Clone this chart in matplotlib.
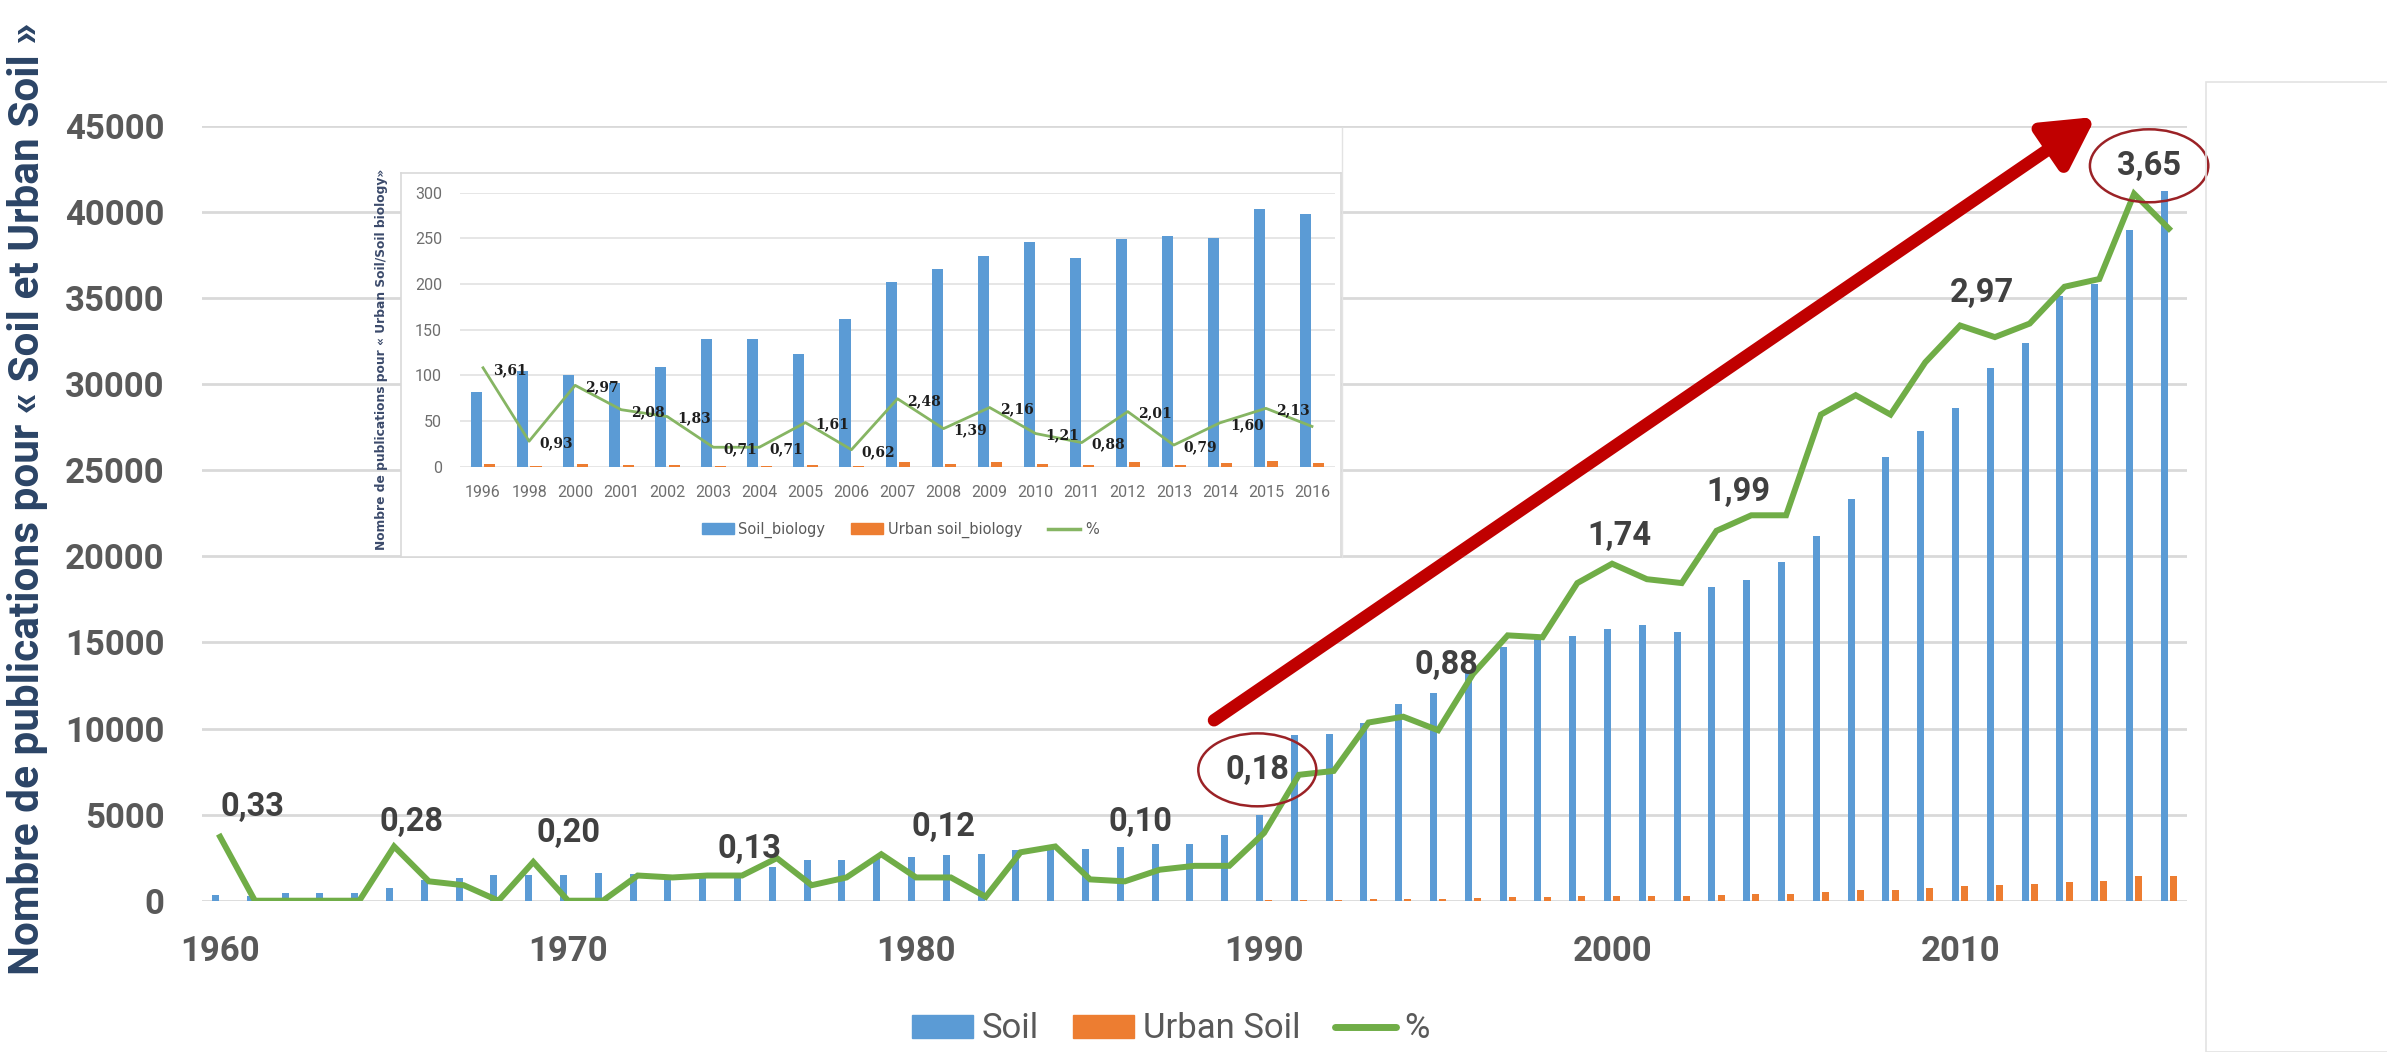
import matplotlib
matplotlib.use('Agg')
import matplotlib.pyplot as plt
import numpy as np
from matplotlib.patches import Rectangle, Patch
from matplotlib.lines import Line2D

plt.rcParams['font.family'] = ['Roboto', 'DejaVu Sans']

# Données du graphique principal (1960-2016)
annees = list(range(1960, 2017))
soil = [330, 300, 430, 430, 430, 720, 1200, 1335, 1510, 1510,
        1510, 1590, 1550, 1470, 1550, 1620, 1950, 2360, 2360, 2480,
        2550, 2630, 2710, 2940, 3000, 3020, 3100, 3290, 3290, 3810,
        4970, 9610, 9710, 10300, 11450, 12090, 13400, 14730, 15300, 15350,
        15800, 15990, 15600, 18210, 18640, 19660, 21210, 23340, 25800, 27300,
        28600, 30970, 32420, 35130, 35830, 38940, 41220]
urban_soil = [1, 0, 0, 0, 0, 2, 1, 1, 0, 3,
              0, 0, 2, 2, 2, 2, 4, 2, 3, 6,
              3, 3, 1, 7, 8, 3, 3, 5, 6, 7,
              17, 62, 65, 95, 109, 106, 157, 202, 208, 252,
              275, 265, 256, 348, 371, 391, 532, 609, 648, 759,
              849, 901, 966, 1114, 1150, 1421, 1430]
pourcent = [0.33, 0, 0, 0, 0, 0.28, 0.10, 0.08, 0, 0.20,
            0, 0, 0.13, 0.12, 0.13, 0.13, 0.22, 0.08, 0.12, 0.24,
            0.12, 0.12, 0.02, 0.25, 0.28, 0.11, 0.10, 0.16, 0.18, 0.18,
            0.35, 0.65, 0.67, 0.92, 0.95, 0.88, 1.17, 1.37, 1.36, 1.64,
            1.74, 1.66, 1.64, 1.91, 1.99, 1.99, 2.51, 2.61, 2.51, 2.78,
            2.97, 2.91, 2.98, 3.17, 3.21, 3.65, 3.47]
annees_etiquetees = [1960, 1965, 1969, 1975, 1981, 1986, 1989, 1995, 2000, 2004, 2010, 2015]
annees_entourees = [1989, 2015]

# Données de l'encart (Soil biology)
annees_bio = ['1996', '1998', '2000', '2001', '2002', '2003', '2004', '2005', '2006', '2007',
              '2008', '2009', '2010', '2011', '2012', '2013', '2014', '2015', '2016']
soil_bio = [82, 105, 100, 92, 109, 140, 140, 123, 162, 202,
            216, 231, 246, 228, 249, 253, 250, 282, 277]
urban_bio = [3, 1, 3, 2, 2, 1, 1, 2, 1, 5,
             3, 5, 3, 2, 5, 2, 4, 6, 4]
pourcent_bio = [3.61, 0.93, 2.97, 2.08, 1.83, 0.71, 0.71, 1.61, 0.62, 2.48,
                1.39, 2.16, 1.21, 0.88, 2.01, 0.79, 1.60, 2.13, 1.47]

BLEU = '#5B9BD5'
ORANGE = '#ED7D31'
VERT = '#70AD47'
GRIS = '#595959'

W, H = 2387, 1052
fig = plt.figure(figsize=(W / 100, H / 100), dpi=100)

def fx(px):
    return px / W

def fy(py):
    return 1 - py / H

# --- graphique principal ---
ax = fig.add_axes([fx(202), fy(900.7), fx(2187 - 202), (900.7 - 126) / H])
x = np.array(annees)
ax.bar(x - 0.13, soil, width=0.2, color=BLEU, zorder=2)
ax.bar(x + 0.13, urban_soil, width=0.2, color=ORANGE, zorder=2)
ax.set_xlim(1959.48, 2016.52)
ax.set_ylim(0, 45000)
ax.set_yticks(range(0, 45001, 5000))
ax.set_xticks(range(1960, 2011, 10))
ax.grid(axis='y', color='#D9D9D9', lw=2.0, zorder=0)
ax.set_axisbelow(True)
for s in ax.spines.values():
    s.set_visible(False)
ax.tick_params(length=0, labelsize=25, labelcolor=GRIS)
ax.tick_params(axis='y', pad=27)
ax.tick_params(axis='x', pad=25)
for lab in ax.get_xticklabels() + ax.get_yticklabels():
    lab.set_fontweight('bold')

ax2 = ax.twinx()
ax2.set_ylim(0, 4)
ax2.axis('off')
ax2.plot(x, pourcent, color=VERT, lw=4.3, solid_joinstyle='miter', zorder=3)

decalages = [(32, 30), (17, 24), (35, 29), (7, 27), (-7, 50), (16, 59),
             (28, 96), (8, 65), (7, 28), (-13, 23), (22, 32), (15, 28)]
for an, (dx, dy) in zip(annees_etiquetees, decalages):
    v = pourcent[annees.index(an)]
    kw = {}
    if an in annees_entourees:
        kw['bbox'] = dict(boxstyle='ellipse,pad=0.3', fc='none', ec='#9B2226', lw=1.8)
    ax2.annotate(f'{v:.2f}'.replace('.', ','), (an, v), xytext=(dx, dy),
                 textcoords='offset pixels', ha='center', va='center',
                 fontsize=23.5, fontweight='bold', color='#404040',
                 annotation_clip=False, **kw)

# flèche rouge
ax.annotate('', xy=(2013.9, 45530), xytext=(1988.56, 10480),
            arrowprops=dict(arrowstyle='-|>,head_length=1.0,head_width=0.55',
                            mutation_scale=30, lw=9, color='#C00000',
                            shrinkA=0, shrinkB=0),
            annotation_clip=False, zorder=5)

fig.text(fx(28), fy(975), 'Nombre de publications pour « Soil et Urban Soil »',
         rotation=90, ha='center', va='bottom', fontsize=30.5, fontweight='bold',
         color='#2B4466')

fig.legend([Patch(color=BLEU), Patch(color=ORANGE),
            Line2D([], [], color=VERT, lw=5, solid_capstyle='round')],
           ['Soil', 'Urban Soil', '%'], loc='center', bbox_to_anchor=(fx(1171), fy(1029)),
           ncol=3, frameon=False, fontsize=25, handlelength=1.75, handleheight=0.65,
           handletextpad=0.25, columnspacing=1.0, labelcolor=GRIS)

# --- encart ---
cadre = fig.add_axes([fx(401), fy(557), fx(1341 - 401), (557 - 173) / H])
cadre.set_xticks([])
cadre.set_yticks([])
for s in cadre.spines.values():
    s.set_color('#D9D9D9')
    s.set_linewidth(1.2)
fig.add_artist(Line2D([fx(1342), fx(1342)], [fy(128), fy(557)], color='#E3E3E3', lw=1))

ins = fig.add_axes([fx(460), fy(466.7), fx(1335 - 460), 274 / H])
pos = np.arange(len(annees_bio))
ins.bar(pos - 0.14, soil_bio, width=0.24, color=BLEU, zorder=2)
ins.bar(pos + 0.15, urban_bio, width=0.24, color=ORANGE, zorder=2)
ins.set_xlim(-0.5, len(annees_bio) - 0.5)
ins.set_ylim(0, 300)
ins.set_yticks(range(0, 301, 50))
ins.set_xticks(pos)
ins.set_xticklabels(annees_bio)
ins.grid(axis='y', color='#E2E2E2', lw=1.2, zorder=0)
ins.set_axisbelow(True)
ins.set_facecolor('none')
for s in ins.spines.values():
    s.set_visible(False)
ins.tick_params(length=0, labelsize=11.5, labelcolor='#6E6E6E')
ins.tick_params(axis='y', pad=13)
ins.tick_params(axis='x', pad=13)

ins2 = ins.twinx()
ins2.set_ylim(0, 10)
ins2.axis('off')
ins2.plot(pos, pourcent_bio, color='#86B563', lw=2.0, zorder=3)
for i, v in enumerate(pourcent_bio[:-1]):
    ins2.annotate(f'{v:.2f}'.replace('.', ','), (i, v), xytext=(10, -2),
                  textcoords='offset pixels', ha='left', va='center',
                  fontsize=10, fontweight='bold', color='#1E1E1E', family='DejaVu Serif')

fig.text(fx(381), fy(359.5), 'Nombre de publications pour « Urban Soil/Soil biology»',
         rotation=90, ha='center', va='center', fontsize=8.8, fontweight='bold',
         color='#3B4A6B', family='DejaVu Sans')

fig.legend([Patch(color=BLEU), Patch(color=ORANGE),
            Line2D([], [], color='#86B563', lw=2.5)],
           ['Soil_biology', 'Urban soil_biology', '%'], loc='center',
           bbox_to_anchor=(fx(900), fy(530)), ncol=3, frameon=False,
           handlelength=2.2, handleheight=0.8, handletextpad=0.3, columnspacing=1.8,
           labelcolor=GRIS, prop={'family': 'DejaVu Sans', 'size': 10.5})

# cadre blanc à droite
fig.add_artist(Rectangle((fx(2206), 0), fx(300), fy(82), transform=fig.transFigure,
                         fill=False, ec='#E3E3E3', lw=1.2))

fig.savefig('out.png', dpi=100)
